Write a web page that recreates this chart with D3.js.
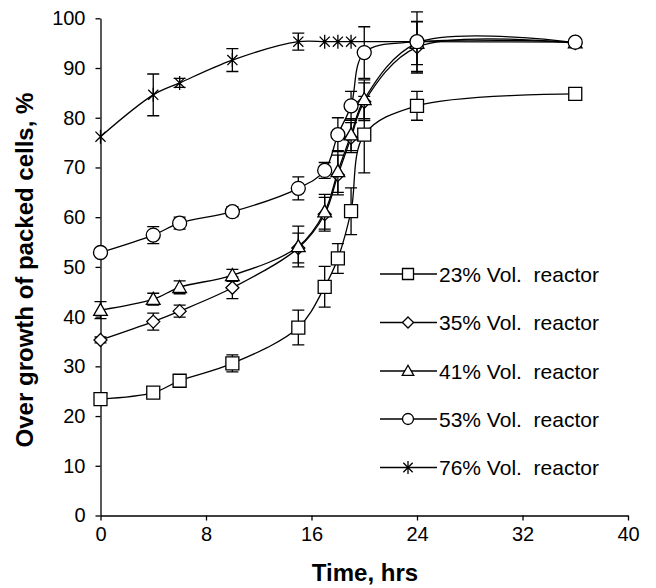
<!DOCTYPE html>
<html>
<head>
<meta charset="utf-8">
<script src="https://cdn.jsdelivr.net/npm/d3@7"></script>
<style>
  body { margin: 0; background: #fff; }
  svg { display: block; font-family: "Liberation Sans", Arial, sans-serif; }
</style>
</head>
<body>
<svg></svg>
<script>
const HOURS = [0, 4, 6, 10, 15, 17, 18, 19, 20, 24, 36];

// values and error bars per reactor (null = not measured)
const VOL_23 = [23.4, 24.7, 27.1, 30.6, 37.8, 46.0, 51.7, 61.2, 76.6, 82.4, 84.8];
const ERR_23 = [0, 0, 0, 1.7, 3.5, 4.1, 3.0, 4.7, 7.7, 2.9, 0];
const VOL_35 = [35.3, 39.0, 41.1, 45.8, 53.8, 60.6, 68.5, 76.0, 83.2, 94.2, 95.0];
const ERR_35 = [0.6, 1.7, 1.2, 2.2, 3.0, 3.4, 4.0, 3.0, 3.8, 5.2, 0];
const VOL_41 = [41.3, 43.5, 45.9, 48.3, 54.1, 61.1, 69.2, 76.6, 83.7, 95.0, 95.1];
const ERR_41 = [1.7, 1.2, 1.3, 1.2, 4.1, 3.5, 4.2, 3.2, 3.9, 4.3, 0];
const VOL_53 = [52.9, 56.4, 58.8, 61.1, 65.8, 69.4, 76.6, 82.4, 93.1, 95.3, 95.2];
const ERR_53 = [0, 1.7, 1.2, 1.0, 2.3, 1.6, 3.4, 2.9, 5.2, 6.0, 0];
const VOL_76 = [76.2, 84.6, 87.0, 91.6, 95.3, 95.3, 95.3, 95.3, null, 95.3, 95.2];
const ERR_76 = [0, 4.2, 0.9, 2.3, 1.7, 0, 0, 0, null, 0, 0];

const X_TICKS = [0, 8, 16, 24, 32, 40];
const Y_TICKS = [0, 10, 20, 30, 40, 50, 60, 70, 80, 90, 100];

const SERIES = [
    { name: "23% Vol.  reactor", values: VOL_23, errors: ERR_23, marker: "square" },
    { name: "35% Vol.  reactor", values: VOL_35, errors: ERR_35, marker: "diamond" },
    { name: "41% Vol.  reactor", values: VOL_41, errors: ERR_41, marker: "triangle" },
    { name: "53% Vol.  reactor", values: VOL_53, errors: ERR_53, marker: "circle" },
    { name: "76% Vol.  reactor", values: VOL_76, errors: ERR_76, marker: "star" },
];
// 76% is painted first so the circles sit on top where they meet
const DRAW_ORDER = [4, 0, 1, 2, 3];

const WIDTH = 656;
const HEIGHT = 588;
const LEFT = 100.5, RIGHT = 628, TOP = 18.3, BOTTOM = 515.5;

const svg = d3.select("svg").attr("width", WIDTH).attr("height", HEIGHT);

const x = d3.scaleLinear().domain([0, 40]).range([LEFT, RIGHT]);
const y = d3.scaleLinear().domain([0, 100]).range([BOTTOM, TOP]);

// marker path, s = overall size in px
function markerPath(type, s) {
    const h = s / 2;
    if (type === "square") return `M${-h},${-h}H${h}V${h}H${-h}Z`;
    if (type === "diamond") return `M0,${-h}L${h},0L0,${h}L${-h},0Z`;
    if (type === "triangle") return `M0,${-h * 1.05}L${h * 1.05},${h * 0.8}L${-h * 1.05},${h * 0.8}Z`;
    if (type === "circle") return `M${h},0A${h},${h} 0 1,1 ${-h},0A${h},${h} 0 1,1 ${h},0Z`;
    const d = h * 0.72;
    return `M0,${-h}V${h}M${-d},${-d}L${d},${d}M${-d},${d}L${d},${-d}`;
}
const MARK_SIZE = { square: 13, diamond: 13, triangle: 13, circle: 14, star: 14 };

// axes
const xAxis = svg.append("g")
    .attr("transform", `translate(0,${BOTTOM})`)
    .call(d3.axisBottom(x).tickValues(X_TICKS).tickSize(5).tickSizeOuter(0).tickPadding(6));
const yAxis = svg.append("g")
    .attr("transform", `translate(${LEFT},0)`)
    .call(d3.axisLeft(y).tickValues(Y_TICKS).tickSize(5).tickSizeOuter(0).tickPadding(10));

[xAxis, yAxis].forEach(a => {
    a.select(".domain").attr("stroke", "#000").attr("stroke-width", 1.3);
    a.selectAll(".tick line").attr("stroke", "#000").attr("stroke-width", 1.3);
    a.selectAll(".tick text")
        .attr("fill", "#000")
        .style("font-size", "20px")
        .style("font-family", "'Liberation Sans', Arial, sans-serif");
});

svg.append("text")
    .attr("x", 365)
    .attr("y", 581)
    .attr("text-anchor", "middle")
    .style("font-size", "24px")
    .style("font-weight", "bold")
    .text("Time, hrs");

svg.append("text")
    .attr("transform", "translate(33,270) rotate(-90)")
    .attr("text-anchor", "middle")
    .style("font-size", "24px")
    .style("font-weight", "bold")
    .text("Over growth of packed cells, %");

const line = d3.line()
    .x(d => x(d.t))
    .y(d => y(d.v))
    .curve(d3.curveCatmullRom.alpha(0.5));

const plot = svg.append("g");

DRAW_ORDER.forEach(i => {
    const s = SERIES[i];
    const pts = HOURS.map((t, k) => ({ t, v: s.values[k], e: s.errors[k] }))
        .filter(d => d.v !== null);

    const g = plot.append("g");

    g.append("path")
        .datum(pts)
        .attr("fill", "none")
        .attr("stroke", "#000")
        .attr("stroke-width", 1.3)
        .attr("d", line);

    g.selectAll(".err")
        .data(pts.filter(d => d.e > 0))
        .enter()
        .append("path")
        .attr("fill", "none")
        .attr("stroke", "#000")
        .attr("stroke-width", 1.3)
        .attr("d", d => {
            const cx = x(d.t), y1 = y(d.v + d.e), y2 = y(d.v - d.e);
            return `M${cx},${y1}V${y2}M${cx - 6},${y1}H${cx + 6}M${cx - 6},${y2}H${cx + 6}`;
        });

    g.selectAll(".mark")
        .data(pts)
        .enter()
        .append("path")
        .attr("transform", d => `translate(${x(d.t)},${y(d.v)})`)
        .attr("d", markerPath(s.marker, MARK_SIZE[s.marker]))
        .attr("fill", s.marker === "star" ? "none" : "#fff")
        .attr("stroke", "#000")
        .attr("stroke-width", 1.3);
});

// legend
const LEGEND_Y = [274, 322.5, 371, 419, 467.5];
const legend = svg.append("g");
SERIES.forEach((s, i) => {
    const ly = LEGEND_Y[i];
    const row = legend.append("g").attr("transform", `translate(0,${ly})`);
    row.append("line")
        .attr("x1", 380).attr("x2", 437)
        .attr("stroke", "#000").attr("stroke-width", 1.3);
    row.append("path")
        .attr("transform", "translate(408,0)")
        .attr("d", markerPath(s.marker, s.marker === "star" ? 13 : 11))
        .attr("fill", s.marker === "star" ? "none" : "#fff")
        .attr("stroke", "#000")
        .attr("stroke-width", 1.3);
    row.append("text")
        .attr("x", 439)
        .attr("dy", "0.36em")
        .style("font-size", "21px")
        .style("white-space", "pre")
        .attr("xml:space", "preserve")
        .text(s.name);
});
</script>
</body>
</html>
